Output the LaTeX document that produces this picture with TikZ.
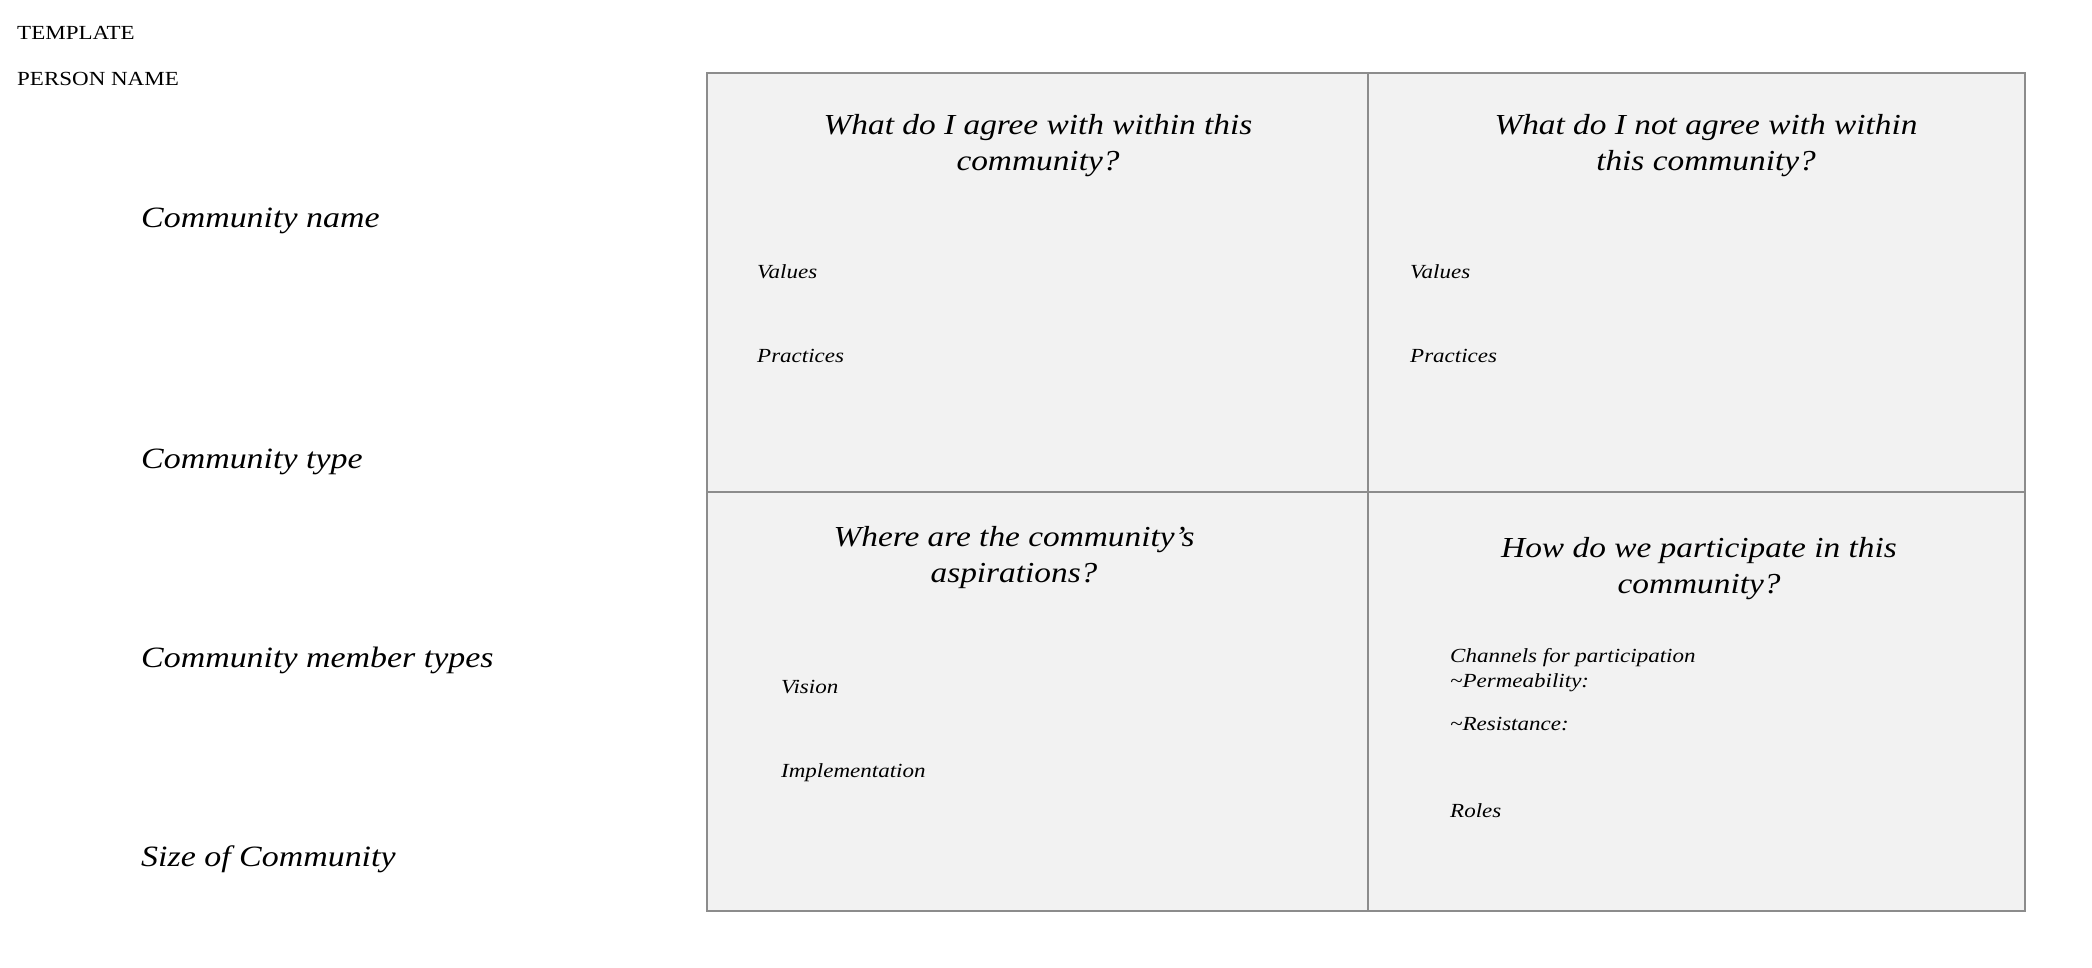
\documentclass[tikz,border=0pt]{standalone}
\usepackage{fontspec}
\setmainfont{Liberation Serif}[FakeStretch=1.15]
\definecolor{cellfill}{HTML}{F2F2F2}
\definecolor{rule}{HTML}{8C8C8C}
\begin{document}
\begin{tikzpicture}[x=1pt,y=-1pt,
  cell/.style={draw=rule,line width=2pt,fill=cellfill},
  head/.style={inner sep=0pt,align=center,font=\fontsize{29}{36}\selectfont\itshape},
  side/.style={inner sep=0pt,anchor=west,font=\fontsize{29.5}{36}\selectfont\itshape},
  item/.style={inner sep=0pt,anchor=west,align=left,font=\fontsize{20}{25}\selectfont\itshape},
  tag/.style={inner sep=0pt,anchor=west,font=\fontsize{20}{24}\selectfont}]
\useasboundingbox (0,0) rectangle (2092,968);

% four answer cells
\draw[cell] (707,73) rectangle (1368,492);
\draw[cell] (1368,73) rectangle (2025,492);
\draw[cell] (707,492) rectangle (1368,911);
\draw[cell] (1368,492) rectangle (2025,911);

% header
\node[tag] (tpl) at (17,32.5) {TEMPLATE};
\node[tag] (person) at (17,78.5) {PERSON NAME};

% left column prompts
\node[side] (cname) at (141,221) {Community name};
\node[side] (ctype) at (141,462) {Community type};
\node[side] (cmember) at (141,660) {Community member types};
\node[side] (csize) at (141,859) {Size of Community};

% cell questions
\node[head] (q1) at (1038,146) {What do I agree with within this\\community?};
\node[head] (q2) at (1706,146) {What do I not agree with within\\this community?};
\node[head] (q3) at (1014,558) {Where are the community’s\\aspirations?};
\node[head] (q4) at (1699,569) {How do we participate in this\\community?};

% cell items
\node[item] (v1) at (757,271.5) {Values};
\node[item] (p1) at (757,355.5) {Practices};
\node[item] (v2) at (1410,271.5) {Values};
\node[item] (p2) at (1410,355.5) {Practices};
\node[item] (vis) at (781,687.5) {Vision};
\node[item] (impl) at (781,773) {Implementation};
\node[item] (chan) at (1450,670.5) {Channels for participation\\\textasciitilde Permeability:};
\node[item] (resist) at (1450,724.5) {\textasciitilde Resistance:};
\node[item] (roles) at (1450,810.5) {Roles};
\end{tikzpicture}
\end{document}
